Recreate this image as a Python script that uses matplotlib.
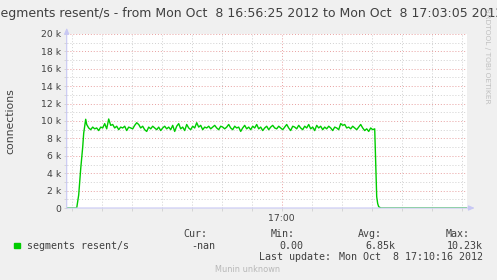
import numpy as np
import matplotlib
matplotlib.use("Agg")
import matplotlib.pyplot as plt

W, H = 497, 280

# seconds since 16:56:25, values in connections
rise_t = [0, 10, 12, 14, 16, 17, 19]
rise_v = [0, 0, 1500, 4500, 7000, 8600, 10200]

noise_v = [
    9.6, 9.2, 9.0, 9.3, 9.1, 9.2, 8.9, 9.3, 9.2, 9.7, 9.1, 10.23,
    9.5, 9.6, 9.2, 9.4, 9.0, 9.3, 9.2, 9.4, 8.9, 9.3, 9.2, 9.1,
    9.5, 9.8, 9.6, 9.2, 9.4, 9.0, 8.8, 9.3, 9.1, 9.4, 9.2, 9.0,
    9.3, 8.9, 9.2, 9.4, 9.1, 9.3, 9.0, 9.5, 8.8, 9.4, 9.7, 9.1,
    9.3, 8.9, 9.6, 9.2, 9.0, 9.4, 9.2, 9.8, 9.3, 9.5, 9.0, 9.3,
    9.2, 9.4, 9.1, 9.3, 9.5, 9.2, 9.0, 9.4, 9.3, 9.1, 9.3, 9.6,
    9.2, 9.0, 9.4, 9.2, 9.3, 8.8, 9.2, 9.5, 9.1, 9.3, 9.0, 9.4,
    9.2, 9.6, 9.1, 9.3, 8.9, 9.2, 9.4, 9.0, 9.3, 9.5, 9.2, 9.1,
    9.4, 9.2, 9.0, 9.3, 9.6, 9.2, 8.9, 9.4, 9.3, 9.1, 9.5, 9.2,
    9.0, 9.4, 9.2, 9.6, 9.1, 9.3, 8.9, 9.5, 9.2, 9.4, 9.0, 9.3,
    9.1, 9.4, 9.2, 8.9, 9.3, 9.2, 9.0, 9.7, 9.5, 9.6, 9.2, 9.3,
    9.1, 9.4, 9.2, 9.0, 9.3, 9.6, 9.2, 8.9, 9.1, 8.8, 9.2, 9.0,
]
noise_t = [20 + 2 * i for i in range(len(noise_v))]

drop_t = [308, 309, 310, 311, 312, 314, 400]
drop_v = [9100, 5000, 1300, 500, 150, 0, 0]

t = np.array(rise_t + noise_t + drop_t)
v = np.array(rise_v + [x * 1000 for x in noise_v] + drop_v)

bg = "#f0f0f0"
axcol = "#c8c8f4"
txt = "#404040"

fig = plt.figure(figsize=(W / 100, H / 100), dpi=100, facecolor=bg)
ax = fig.add_axes([66.7 / W, (H - 208) / H, 400 / W, 174 / H])
ax.set_facecolor("white")

ax.plot(t, v, color="#00cc00", lw=1.0, zorder=3)

ax.set_xlim(0, 400)
ax.set_ylim(0, 20000)

ax.set_yticks(range(0, 20001, 2000))
ax.set_yticklabels(["0"] + ["%d k" % (k // 1000) for k in range(2000, 20001, 2000)])
ax.set_yticks(range(1000, 20000, 2000), minor=True)
ax.set_xticks([215])
ax.set_xticklabels(["17:00"])
ax.set_xticks([x for x in range(5, 400, 30) if x != 215], minor=True)

ax.grid(which="minor", color="#d0d0d0", ls=(0, (1, 2)), lw=0.7)
ax.grid(which="major", color="#e8a0a0", ls=(0, (1, 2)), lw=0.7)
ax.set_axisbelow(True)

ax.tick_params(which="both", length=2, width=0.6, color="#d0d0d0",
               labelsize=6.7, labelcolor=txt, pad=2)
for s in ax.spines.values():
    s.set_visible(False)

# axis lines with arrows
ax.annotate("", xy=(0, 1.035), xytext=(0, 0), xycoords="axes fraction",
            arrowprops=dict(arrowstyle="-|>,head_length=0.35,head_width=0.15",
                            color=axcol, lw=0.8, shrinkA=0, shrinkB=0),
            annotation_clip=False)
ax.annotate("", xy=(1.02, 0), xytext=(0, 0), xycoords="axes fraction",
            arrowprops=dict(arrowstyle="-|>,head_length=0.35,head_width=0.15",
                            color=axcol, lw=0.8, shrinkA=0, shrinkB=0),
            annotation_clip=False)

ax.set_ylabel("connections", fontsize=7.8, color=txt)
ax.yaxis.set_label_coords(-51 / 400, 0.5)


def px(x, y):
    return x / W, 1 - y / H


fig.text(*px(248.5, 13), "segments resent/s - from Mon Oct  8 16:56:25 2012 to Mon Oct  8 17:03:05 2012",
         ha="center", va="center", fontsize=9, color=txt)
fig.text(*px(487, 56), "RRDTOOL / TOBI OETIKER", rotation=270, ha="center", va="center",
         fontsize=5.4, color="#c0c0c0")

mono = dict(family="DejaVu Sans Mono", fontsize=7.2, color=txt, va="center")
fig.patches.append(plt.Rectangle(px(14, 248.3), 6 / W, 5.6 / H, transform=fig.transFigure,
                                 color="#00cc00"))
fig.text(*px(26.7, 245.7), "segments resent/s", ha="left", **mono)
for xr, yy, s in [(207.3, 234, "Cur:"), (215.3, 245.7, "-nan"),
                  (295, 234, "Min:"), (303.3, 245.7, "0.00"),
                  (381.7, 234, "Avg:"), (395.7, 245.7, "6.85k"),
                  (469.3, 234, "Max:"), (482.7, 245.7, "10.23k"),
                  (331, 257.3, "Last update:"), (483.3, 257.3, "Mon Oct  8 17:10:16 2012")]:
    fig.text(*px(xr, yy), s, ha="right", **mono)

fig.text(*px(248, 269), "Munin unknown", ha="center", va="center", fontsize=5.9, color="#b8b8b8")

fig.savefig("out.png", dpi=100, facecolor=bg)
